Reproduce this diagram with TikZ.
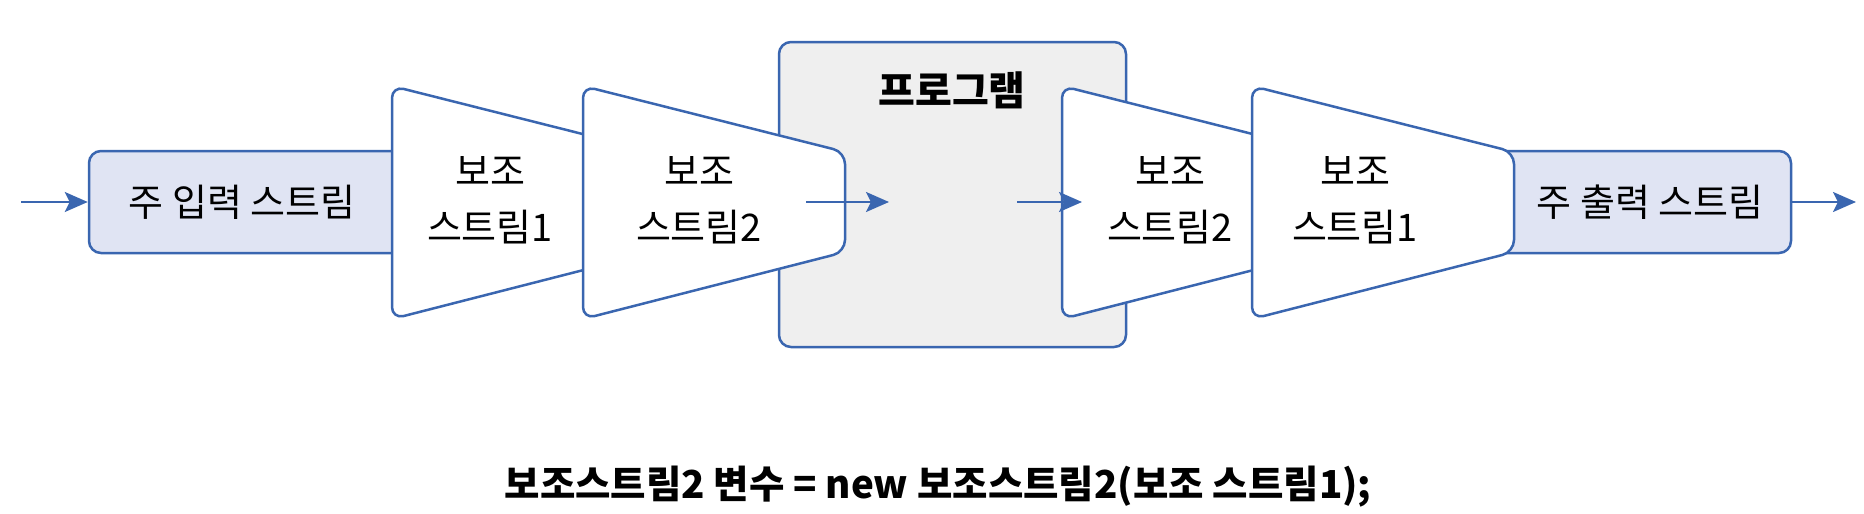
\documentclass[tikz,border=0pt]{standalone}
\usepackage{fontspec}
\setmainfont{Noto Sans CJK KR}
\usepackage{tikz}
\usetikzlibrary{arrows.meta}
\definecolor{streamblue}{HTML}{3A66B0}
\definecolor{streamfill}{HTML}{E0E4F3}
\definecolor{proggray}{HTML}{EFEFEF}

\begin{document}
\begin{tikzpicture}[x=1pt, y=-1pt, line width=2.5pt,
    flow/.style={draw=streamblue, -{Stealth[length=23pt,width=20pt,inset=5pt]}},
    mainbox/.style={draw=streamblue, fill=streamfill, rounded corners=12pt,
        minimum height=102pt, inner sep=0pt},
    subtrap/.style={draw=streamblue, fill=white, rounded corners=12pt},
    streamtext/.style={font=\fontsize{38}{56}\selectfont, align=center, inner sep=0pt}]
    \useasboundingbox (0,0) rectangle (1864,514);
    % main input
    \node[mainbox, minimum width=332pt] (inbox) at (255,202) {};
    \node[streamtext] (intext) at (242,202) {주 입력 스트림};
    \coordinate (instart) at (21,202);
    \draw[flow] (instart) -- (inbox.west);
    % helper stream 1
    \draw[subtrap] (392,86) -- (654,152) -- (654,252) -- (392,319) -- cycle;
    \node[streamtext] (sub1) at (490,200) {보조\\스트림1};
    % program
    \node[draw=streamblue, fill=proggray, rounded corners=12pt,
        minimum width=347pt, minimum height=305pt] (prog) at (952.5,194.5) {};
    \node[font=\bfseries\fontsize{40}{46}\selectfont, inner sep=0pt] (progtitle) at (952,90) {프로그램};
    % helper stream 2
    \draw[subtrap] (583,86) -- (845,152) -- (845,252) -- (583,319) -- cycle;
    \node[streamtext] (sub2) at (699,200) {보조\\스트림2};
    \coordinate (readstart) at (806,202);
    \coordinate (readend) at (889,202);
    \draw[flow] (readstart) -- (readend);
    % output side
    \draw[subtrap] (1062,86) -- (1324,152) -- (1324,252) -- (1062,319) -- cycle;
    \node[streamtext] (subout2) at (1170,200) {보조\\스트림2};
    \node[mainbox, minimum width=311pt] (outbox) at (1635.5,202) {};
    \node[streamtext] (outtext) at (1650,202) {주 출력 스트림};
    \draw[subtrap] (1252,86) -- (1514,152) -- (1514,252) -- (1252,319) -- cycle;
    \node[streamtext] (subout1) at (1355,200) {보조\\스트림1};
    \coordinate (writestart) at (1017,202);
    \coordinate (writeend) at (1082,202);
    \draw[flow] (writestart) -- (writeend);
    \coordinate (outend) at (1856,202);
    \draw[flow] (outbox.east) -- (outend);
    % code line
    \node[font=\bfseries\fontsize{38.5}{44}\selectfont, inner sep=0pt] (code) at (938,487)
        {보조스트림2 변수 = new 보조스트림2(보조 스트림1);};
\end{tikzpicture}
\end{document}
